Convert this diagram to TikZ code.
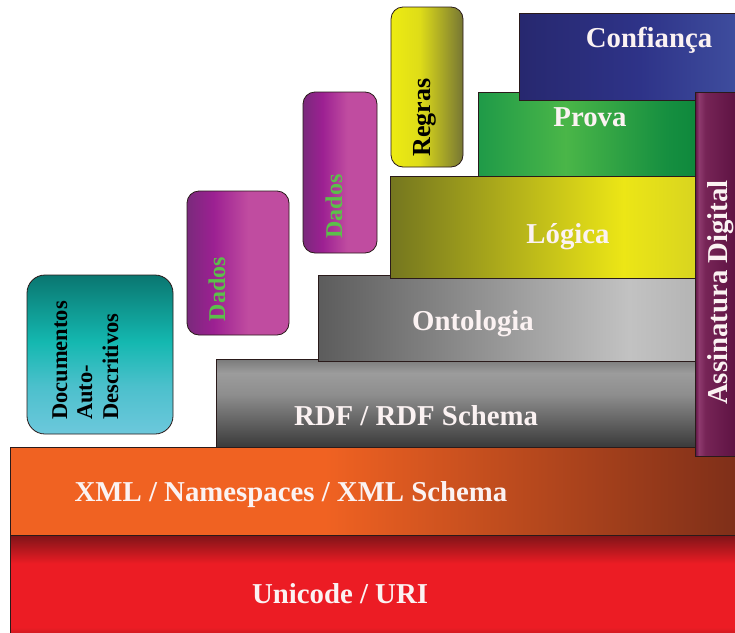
\documentclass[tikz,border=0pt]{standalone}
\usepackage{fontspec}
\setmainfont{Liberation Serif}
\definecolor{lineC}{HTML}{2A1A1A}
\definecolor{uniDk}{HTML}{7E1418}
\definecolor{uniDk2}{HTML}{9A181C}
\definecolor{uniRd}{HTML}{EC1C24}
\definecolor{xmlOr}{HTML}{F06222}
\definecolor{xmlBr}{HTML}{782C18}
\definecolor{rdfA}{HTML}{3A3A3A}
\definecolor{rdfB}{HTML}{8E8E8E}
\definecolor{rdfC}{HTML}{9C9C9C}
\definecolor{rdfD}{HTML}{7A7A7A}
\definecolor{ontA}{HTML}{5C5C5C}
\definecolor{ontB}{HTML}{C2C2C2}
\definecolor{ontC}{HTML}{B4B4B4}
\definecolor{logA}{HTML}{74761F}
\definecolor{logB}{HTML}{ECE616}
\definecolor{logC}{HTML}{D8D420}
\definecolor{proA}{HTML}{1F9A48}
\definecolor{proB}{HTML}{4AB648}
\definecolor{proC}{HTML}{168F40}
\definecolor{proD}{HTML}{0E883C}
\definecolor{conA}{HTML}{27286F}
\definecolor{conB}{HTML}{2E3388}
\definecolor{conC}{HTML}{4253A3}
\definecolor{assA}{HTML}{5A1040}
\definecolor{assL}{HTML}{8E3A6E}
\definecolor{assB}{HTML}{762456}
\definecolor{regA}{HTML}{EEEC12}
\definecolor{regB}{HTML}{DEDC18}
\definecolor{regC}{HTML}{767634}
\definecolor{dadA}{HTML}{7A2A7C}
\definecolor{dadB}{HTML}{9C2092}
\definecolor{dadC}{HTML}{C04CA0}
\definecolor{docA}{HTML}{6CC8DC}
\definecolor{docB}{HTML}{4CC0CC}
\definecolor{docC}{HTML}{14B8B0}
\definecolor{docD}{HTML}{0A7670}
\definecolor{dadText}{HTML}{5CBF4A}
\definecolor{txtW}{HTML}{FBF2F2}
\pgfdeclareverticalshading{unish}{100bp}{color(0bp)=(uniDk2); color(25bp)=(uniDk2); color(33bp)=(uniRd); color(62bp)=(uniRd); color(75bp)=(uniDk); color(100bp)=(uniDk)}
\pgfdeclarehorizontalshading{xmlsh}{100bp}{color(0bp)=(xmlOr); color(25bp)=(xmlOr); color(46bp)=(xmlOr); color(75bp)=(xmlBr); color(100bp)=(xmlBr)}
\pgfdeclareverticalshading{rdfsh}{100bp}{color(0bp)=(rdfA); color(25bp)=(rdfA); color(55bp)=(rdfB); color(67bp)=(rdfC); color(75bp)=(rdfD); color(100bp)=(rdfD)}
\pgfdeclarehorizontalshading{ontsh}{100bp}{color(0bp)=(ontA); color(25bp)=(ontA); color(66bp)=(ontB); color(75bp)=(ontC); color(100bp)=(ontC)}
\pgfdeclarehorizontalshading{logsh}{100bp}{color(0bp)=(logA); color(25bp)=(logA); color(63bp)=(logB); color(75bp)=(logC); color(100bp)=(logC)}
\pgfdeclarehorizontalshading{prosh}{100bp}{color(0bp)=(proA); color(25bp)=(proA); color(45bp)=(proB); color(68bp)=(proC); color(75bp)=(proD); color(100bp)=(proD)}
\pgfdeclarehorizontalshading{consh}{100bp}{color(0bp)=(conA); color(25bp)=(conA); color(50bp)=(conB); color(75bp)=(conC); color(100bp)=(conC)}
\pgfdeclarehorizontalshading{asssh}{100bp}{color(0bp)=(assA); color(25bp)=(assA); color(28bp)=(assL); color(33bp)=(assB); color(60bp)=(assA); color(75bp)=(assA); color(100bp)=(assA)}
\pgfdeclarehorizontalshading{regsh}{100bp}{color(0bp)=(regA); color(25bp)=(regA); color(45bp)=(regB); color(75bp)=(regC); color(100bp)=(regC)}
\pgfdeclarehorizontalshading{dadsh}{100bp}{color(0bp)=(dadA); color(25bp)=(dadA); color(38bp)=(dadB); color(55bp)=(dadC); color(75bp)=(dadC); color(100bp)=(dadC)}
\pgfdeclareverticalshading{docsh}{100bp}{color(0bp)=(docA); color(25bp)=(docA); color(40bp)=(docB); color(54bp)=(docC); color(75bp)=(docD); color(100bp)=(docD)}
\tikzset{
  layer/.style={draw=lineC, line width=0.8pt},
  pill/.style={draw=lineC, line width=0.8pt, rounded corners=12pt},
  big/.style={text=txtW, font=\bfseries\fontsize{28.8}{32}\selectfont, inner sep=0pt, anchor=base},
  vbig/.style={big, rotate=90},
  vsmall/.style={font=\bfseries\fontsize{24}{28}\selectfont, inner sep=0pt, rotate=90, anchor=base},
}
\begin{document}
\begin{tikzpicture}[x=1pt,y=-1pt]
\useasboundingbox (0,0) rectangle (735,632);
\clip (0,0) rectangle (735,632);
\fill[white] (0,0) rectangle (735,632);
% layers
\path[layer, shading=unish] (10,535) rectangle (760,645);
\path[layer, shading=xmlsh] (10,447) rectangle (760,535);
\path[layer, shading=rdfsh] (216,359) rectangle (697,447);
\path[layer, shading=ontsh] (318,275) rectangle (697,361);
\path[layer, shading=logsh] (390,176) rectangle (697,278);
\path[layer, shading=prosh] (478,92) rectangle (697,176);
\path[layer, shading=consh] (519,13) rectangle (760,100);
\path[layer, shading=asssh] (695,92) rectangle (760,456);
% rounded boxes
\path[pill, shading=regsh] (391,7) rectangle (463,167);
\path[pill, shading=dadsh] (303,92) rectangle (377,253);
\path[pill, shading=dadsh] (187,191) rectangle (289,335);
\path[pill, rounded corners=18pt, shading=docsh] (27,275) rectangle (173,434);
% labels
\node[big] (tUni) at (340,603) {Unicode / URI};
\node[big] (tXml) at (291,501) {XML / Namespaces / XML Schema};
\node[big] (tRdf) at (416,425) {RDF / RDF Schema};
\node[big] (tOnt) at (473,330) {Ontologia};
\node[big] (tLog) at (568,243) {Lógica};
\node[big] (tPro) at (590,126) {Prova};
\node[big] (tCon) at (649,47) {Confiança};
\node[vbig] (tAss) at (727,292.5) {Assinatura Digital};
\node[vsmall, font=\bfseries\fontsize{26}{30}\selectfont, text=black] (tReg) at (430,117.5) {Regras};
\node[vsmall, text=dadText] (tDad1) at (342,206.5) {Dados};
\node[vsmall, text=dadText] (tDad2) at (225,289) {Dados};
\node[vsmall, font=\bfseries\fontsize{22.5}{26}\selectfont, text=black, anchor=base west] (tDoc1) at (67,420) {Documentos};
\node[vsmall, font=\bfseries\fontsize{22.5}{26}\selectfont, text=black, anchor=base west] (tDoc2) at (92,420) {Auto-};
\node[vsmall, font=\bfseries\fontsize{22.5}{26}\selectfont, text=black, anchor=base west] (tDoc3) at (118,420) {Descritivos};
\end{tikzpicture}
\end{document}
